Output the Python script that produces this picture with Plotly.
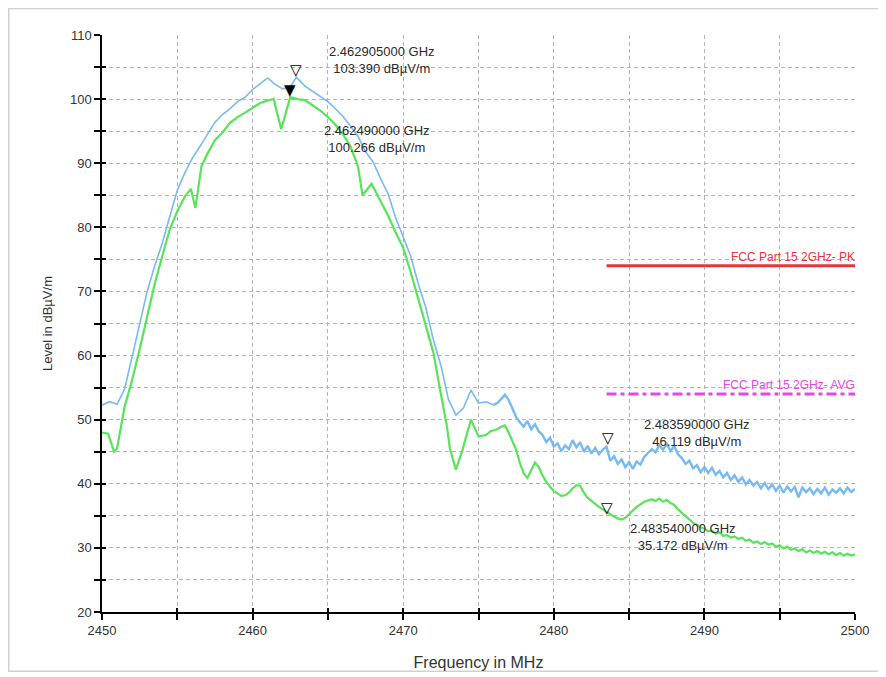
import numpy as np
import plotly.graph_objects as go

# ---------------- data ----------------
# Peak trace (blue), coarse part
pk_freq_a = [2450.0, 2450.5, 2451.0, 2451.5, 2452.0, 2452.5, 2453.0, 2453.5, 2454.0, 2454.5,
             2455.0, 2455.5, 2456.0, 2456.5, 2457.0, 2457.5, 2458.0, 2458.5, 2459.0, 2459.5,
             2460.0, 2460.5, 2461.0, 2461.5, 2462.0, 2462.5, 2462.9, 2463.5, 2464.0, 2464.5,
             2465.0, 2465.5, 2466.0, 2466.5, 2467.0, 2467.5, 2468.0, 2468.5, 2469.0, 2469.5,
             2470.0, 2470.5, 2471.0, 2471.5, 2472.0, 2472.5, 2473.0, 2473.5, 2474.0, 2474.5,
             2475.0, 2475.5, 2476.0]
pk_level_a = [52.3, 52.8, 52.4, 54.8, 59.8, 65.0, 70.0, 74.0, 77.5, 81.7,
              85.8, 88.5, 90.8, 92.6, 94.6, 96.4, 97.6, 98.5, 99.6, 100.3,
              101.5, 102.4, 103.3, 102.3, 101.6, 101.9, 103.4, 102.0, 101.2, 100.4,
              99.6, 98.5, 97.3, 95.8, 94.2, 91.8, 90.2, 87.6, 85.2, 81.5,
              78.5, 75.5, 71.2, 67.5, 62.5, 58.5, 53.2, 50.7, 51.8, 54.6,
              52.6, 52.8, 52.3]
# Peak trace (blue), fine part 2476.25 .. 2500 every 0.25 MHz
pk_level_b = [52.6, 53.2, 53.9, 53.1, 51.8, 50.4, 49.6, 48.9, 49.8, 48.5, 49.3, 48.2,
              47.6, 46.5, 47.2, 45.8, 46.3, 45.1, 46.0, 45.4, 46.8, 45.7, 46.5, 45.0,
              45.9, 44.7, 45.6, 44.6, 45.3, 45.8, 43.6, 44.3, 43.1, 43.8, 42.6, 43.4,
              42.3, 43.5, 43.0, 44.2, 44.8, 45.4, 44.9, 46.0, 45.3, 46.2, 45.1, 45.9,
              44.6, 44.0, 43.1, 43.6, 42.4, 42.9, 41.8, 42.6, 41.7, 42.5, 41.4, 42.0,
              41.0, 41.7, 40.6, 41.3, 40.3, 41.0, 39.9, 40.6, 39.7, 40.3, 39.3, 40.1,
              39.2, 39.9, 38.9, 39.7, 38.6, 39.6, 38.8, 39.5, 37.9, 39.4, 38.7, 39.3,
              38.4, 39.2, 38.5, 39.4, 38.3, 39.1, 38.6, 39.3, 38.5, 39.4, 38.7, 39.2]

# Average trace (green), coarse part
av_freq_a = [2450.0, 2450.4, 2450.8, 2451.0, 2451.5, 2452.0, 2452.5, 2453.0, 2453.5, 2454.0,
             2454.5, 2455.0, 2455.5, 2455.9, 2456.2, 2456.6, 2457.0, 2457.5, 2458.0, 2458.5,
             2459.0, 2459.5, 2460.0, 2460.5, 2461.0, 2461.4, 2461.9, 2462.5, 2463.0, 2463.5,
             2464.0, 2464.5, 2465.0, 2465.5, 2466.0, 2466.5, 2467.0, 2467.3, 2467.9, 2468.5,
             2469.0, 2469.5, 2470.0, 2470.5, 2471.0, 2471.5, 2472.0, 2472.5, 2472.9, 2473.1,
             2473.5, 2473.9, 2474.5, 2475.0, 2475.5, 2475.8, 2476.0]
av_level_a = [48.0, 47.8, 45.0, 45.5, 52.0, 56.2, 61.0, 66.0, 71.2, 75.5,
              79.7, 82.5, 84.8, 86.0, 83.0, 89.5, 91.5, 93.6, 94.8, 96.3,
              97.2, 97.9, 98.6, 99.4, 99.8, 100.0, 95.3, 100.3, 100.0, 99.8,
              99.0, 98.2, 97.2, 96.0, 94.5, 92.6, 89.5, 85.0, 86.8, 84.0,
              81.8, 79.2, 76.8, 73.0, 68.8, 64.5, 60.5, 54.0, 49.0, 45.5,
              42.2, 45.0, 50.0, 47.4, 47.6, 48.2, 48.3]
# Average trace (green), fine part 2476.25 .. 2500 every 0.25 MHz
av_level_b = [48.5, 48.9, 49.1, 48.0, 46.6, 45.3, 43.2, 41.6, 40.9, 42.2, 43.3, 42.6,
              41.3, 40.3, 39.6, 38.8, 38.5, 38.1, 38.2, 38.6, 39.3, 39.8, 39.7, 38.6,
              37.8, 37.3, 36.9, 36.4, 36.0, 35.6, 35.3, 34.9, 34.6, 34.4, 34.7, 35.3,
              35.8, 36.4, 36.8, 37.2, 37.4, 37.6, 37.3, 37.7, 37.2, 37.5, 37.0, 36.7,
              36.0, 35.5, 34.9, 34.5, 33.9, 33.6, 33.2, 33.0, 32.6, 32.7, 32.2, 32.4,
              31.9, 32.0, 31.6, 31.8, 31.4, 31.6, 31.1, 31.3, 30.8, 31.0, 30.6, 30.9,
              30.5, 30.7, 30.2, 30.4, 29.9, 30.2, 29.7, 29.9, 29.5, 29.8, 29.3, 29.6,
              29.2, 29.5, 29.1, 29.4, 29.0, 29.3, 28.9, 29.2, 28.8, 29.1, 28.8, 29.0]

fine_freq = list(np.arange(2476.25, 2500.001, 0.25))
assert len(fine_freq) == len(pk_level_b) == len(av_level_b)

# Limit lines
limit_freq = [2483.5, 2500.0]
limit_pk = [74.0, 74.0]
limit_avg = [54.0, 54.0]
limit_pk_name = "FCC Part 15 2GHz- PK"
limit_avg_name = "FCC Part 15 2GHz- AVG"

# Markers
mk_freq = [2462.905, 2462.490, 2483.590, 2483.540]
mk_level = [103.390, 100.266, 46.119, 35.172]
mk_text = ["2.462905000 GHz<br>103.390 dBµV/m",
           "2.462490000 GHz<br>100.266 dBµV/m",
           "2.483590000 GHz<br>46.119 dBµV/m",
           "2.483540000 GHz<br>35.172 dBµV/m"]
mk_symbol = ["▽", "▼", "▽", "▽"]

x_tickvals = [2450, 2455, 2460, 2465, 2470, 2475, 2480, 2485, 2490, 2495, 2500]
x_ticktext = ["2450", "", "2460", "", "2470", "", "2480", "", "2490", "", "2500"]
y_tickvals = [20, 25, 30, 35, 40, 45, 50, 55, 60, 65, 70, 75, 80, 85, 90, 95, 100, 105, 110]
y_ticktext = ["20", "", "30", "", "40", "", "50", "", "60", "", "70", "", "80", "", "90", "", "100", "", "110"]

# ---------------- figure ----------------
FONT = "Liberation Sans, Arial, sans-serif"
BLUE = "#78b9f2"
GREEN = "#58e35a"
fig = go.Figure()

# peak trace: smooth part thin, noisy tail drawn a bit heavier
fig.add_trace(go.Scatter(x=pk_freq_a, y=pk_level_a, mode="lines",
                         line=dict(color=BLUE, width=1.6), showlegend=False))
fig.add_trace(go.Scatter(x=[pk_freq_a[-1]] + fine_freq, y=[pk_level_a[-1]] + pk_level_b, mode="lines",
                         line=dict(color=BLUE, width=2.4), showlegend=False))
fig.add_trace(go.Scatter(x=av_freq_a + fine_freq, y=av_level_a + av_level_b, mode="lines",
                         line=dict(color=GREEN, width=2.2), showlegend=False))
fig.add_trace(go.Scatter(x=limit_freq, y=limit_pk, mode="lines",
                         line=dict(color="#e8353b", width=3), showlegend=False))
fig.add_trace(go.Scatter(x=limit_freq, y=limit_avg, mode="lines",
                         line=dict(color="#e646e6", width=3, dash="10px,4px,4px,4px"), showlegend=False))
# empty trace so the overlay tick axes are drawn
fig.add_trace(go.Scatter(x=[], y=[], xaxis="x2", yaxis="y2", showlegend=False, hoverinfo="skip"))

# limit labels
fig.add_annotation(x=limit_freq[-1], y=limit_pk[-1], text=limit_pk_name, showarrow=False,
                   xanchor="right", yanchor="bottom", xshift=2, yshift=0,
                   font=dict(family=FONT, size=12, color="#e8353b"))
fig.add_annotation(x=limit_freq[-1], y=limit_avg[-1], text=limit_avg_name, showarrow=False,
                   xanchor="right", yanchor="bottom", xshift=2, yshift=0,
                   font=dict(family=FONT, size=12, color="#e646e6"))

# marker glyphs + labels
text_shift = [(86, 17), (87, -42), (89, 12), (76, -22)]
for f, lv, txt, sym, (dx, dy) in zip(mk_freq, mk_level, mk_text, mk_symbol, text_shift):
    fig.add_annotation(x=f, y=lv, text=sym, showarrow=False, xanchor="center", yanchor="bottom",
                       yshift=-4, font=dict(family="DejaVu Sans", size=15, color="black"))
    fig.add_annotation(x=f, y=lv, text=txt, showarrow=False, xanchor="center", yanchor="middle",
                       xshift=dx, yshift=dy, align="center",
                       font=dict(family=FONT, size=13, color="#2a2a2a"))

# outer frame
fig.add_shape(type="rect", xref="paper", yref="paper", x0=-0.1238, x1=1.0395, y0=-0.1025, y1=1.0460,
              line=dict(color="#d0d0d0", width=1.5), fillcolor="rgba(0,0,0,0)", layer="below")

axis_common = dict(showgrid=True, gridcolor="#b4b4b4", griddash="4px,3px", gridwidth=1,
                   showline=True, linecolor="black", linewidth=1.5,
                   ticks="outside", ticklen=6, tickwidth=1.5, tickcolor="black",
                   tickfont=dict(family=FONT, size=13, color="#333333"),
                   zeroline=False, tickmode="array", automargin=False)
overlay_common = dict(showgrid=False, showline=False, zeroline=False, ticks="inside",
                      ticklen=4, tickwidth=1.5, tickcolor="black", showticklabels=False,
                      tickmode="array", automargin=False)

fig.update_layout(
    width=878, height=669,
    margin=dict(l=94, r=31, t=27, b=65),
    paper_bgcolor="white", plot_bgcolor="white",
    showlegend=False,
    xaxis=dict(range=[2450, 2500], tickvals=x_tickvals, ticktext=x_ticktext,
               title=dict(text="Frequency in MHz", font=dict(family=FONT, size=16, color="#333333"),
                          standoff=19), **axis_common),
    yaxis=dict(range=[20, 110], tickvals=y_tickvals, ticktext=y_ticktext,
               title=dict(text="Level in dBµV/m", font=dict(family=FONT, size=13, color="#333333"),
                          standoff=14), **axis_common),
    xaxis2=dict(range=[2450, 2500], tickvals=x_tickvals, overlaying="x", anchor="y2", **overlay_common),
    yaxis2=dict(range=[20, 110], tickvals=y_tickvals, overlaying="y", anchor="x2", **overlay_common),
)

fig.write_html("out.html")
